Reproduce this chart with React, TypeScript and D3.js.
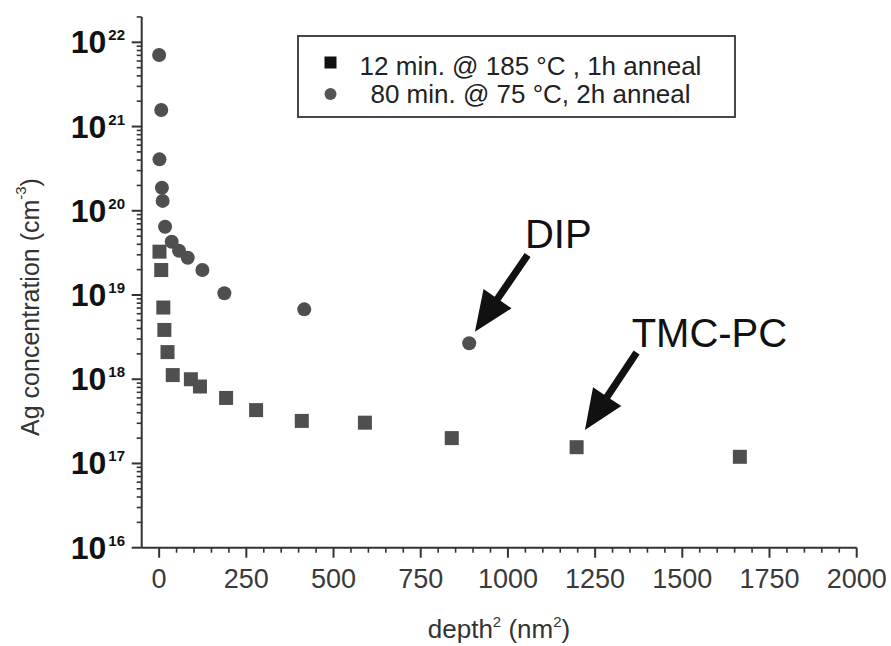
import React from "react";
import * as d3 from "d3";

// ---- data ----
const squareDepth = [1, 6, 12, 15, 24, 39, 91, 117, 192, 278, 409, 590, 839, 1197, 1665];
const squareConc = [3.27e19, 1.98e19, 7.1e18, 3.85e18, 2.1e18, 1.12e18, 1.0e18, 8.2e17, 6.0e17, 4.3e17, 3.2e17, 3.05e17, 2.0e17, 1.56e17, 1.2e17];
const circleDepth = [0, 6, 1, 8, 10, 17, 36, 57, 82, 124, 187, 416, 889];
const circleConc = [7.06e21, 1.57e21, 4.08e20, 1.88e20, 1.31e20, 6.47e19, 4.29e19, 3.36e19, 2.77e19, 1.98e19, 1.05e19, 6.76e18, 2.67e18];

const xTicks = [0, 250, 500, 750, 1000, 1250, 1500, 1750, 2000];
const yDecades = [16, 17, 18, 19, 20, 21, 22];
const legendLabels = ["12 min. @ 185 °C , 1h anneal", "80 min. @ 75 °C, 2h anneal"];
const annotationLabels = ["DIP", "TMC-PC"];
const annotationDepth = [889, 1197];
const annotationConc = [2.67e18, 1.56e17];

const FONT = "'Liberation Sans', Arial, Helvetica, sans-serif";
const AXIS = "#333";
const MARK = "#4f4f4f";

export default function App() {
  const W = 891, H = 646;
  const x = d3.scaleLinear().domain([-50, 2000]).range([141.7, 856.7]);
  const decadePx = 84.23;
  const y0 = 547.7;
  const y = d3
    .scaleLog()
    .domain([1e16, 2e22])
    .range([y0, y0 - decadePx * Math.log10(2e6)]);

  const xMinor: number[] = d3.range(0, 2001, 50).filter((v) => v % 250 !== 0);
  const yMinor: number[] = [];
  yDecades.forEach((d) => {
    for (let k = 2; k <= 9; k++) {
      const v = k * Math.pow(10, d);
      if (v <= 2e22 + 1) yMinor.push(v);
    }
  });

  const axisX = x(-50);
  const sq = 14;

  const arrow = (tx: number, ty: number, hx: number, hy: number, key: string) => {
    const dx = hx - tx, dy = hy - ty;
    const len = Math.hypot(dx, dy);
    const ux = dx / len, uy = dy / len;
    const nx = -uy, ny = ux;
    const L = 40, hw = 17, sw = 3.6;
    const bx = hx - L * ux, by = hy - L * uy;
    const pts = [
      [tx + sw * nx, ty + sw * ny],
      [bx + sw * nx, by + sw * ny],
      [bx + hw * nx, by + hw * ny],
      [hx, hy],
      [bx - hw * nx, by - hw * ny],
      [bx - sw * nx, by - sw * ny],
      [tx - sw * nx, ty - sw * ny],
    ];
    return <polygon key={key} points={pts.map((p) => p.join(",")).join(" ")} fill="#111" />;
  };

  // pixel offsets of label / arrow relative to the annotated point
  const annOffsets = [
    { text: [55.7, -95.3], tail: [58.4, -88.3], tip: [5.7, -11.6] },
    { text: [55, -100.6], tail: [60, -94.6], tip: [8.3, -17.3] },
  ];

  return (
    <svg
      width={W}
      height={H}
      style={{ position: "absolute", left: 0, top: 0, background: "#fff" }}
      fontFamily={FONT}
    >
      <rect x={0} y={0} width={W} height={H} fill="#fff" />
      {/* axes lines */}
      <line x1={axisX} x2={axisX} y1={y(2e22)} y2={y0} stroke={AXIS} strokeWidth={2} />
      <line x1={axisX} x2={x(2000)} y1={y0} y2={y0} stroke={AXIS} strokeWidth={2} />
      {/* x ticks */}
      {xTicks.map((t) => (
        <g key={"xt" + t}>
          <line x1={x(t)} x2={x(t)} y1={y0} y2={y0 + 10} stroke={AXIS} strokeWidth={2} />
          <text x={x(t)} y={588} textAnchor="middle" fontSize={27} fill="#3a3a3a">
            {t}
          </text>
        </g>
      ))}
      {xMinor.map((t) => (
        <line key={"xm" + t} x1={x(t)} x2={x(t)} y1={y0} y2={y0 + 5} stroke={AXIS} strokeWidth={1.6} />
      ))}
      {/* y ticks */}
      {yDecades.map((d) => {
        const v = Math.pow(10, d);
        return (
          <g key={"yt" + d}>
            <line x1={axisX - 10} x2={axisX} y1={y(v)} y2={y(v)} stroke={AXIS} strokeWidth={2} />
            <text x={125} y={y(v) + 11} textAnchor="end" fontWeight="bold" fill="#111">
              <tspan fontSize={32}>10</tspan>
              <tspan fontSize={15} dy={-13} dx={2}>
                {d}
              </tspan>
            </text>
          </g>
        );
      })}
      {yMinor.map((v, i) => (
        <line key={"ym" + i} x1={axisX - 5} x2={axisX} y1={y(v)} y2={y(v)} stroke={AXIS} strokeWidth={1.6} />
      ))}
      {/* axis titles */}
      <text
        transform={`translate(30,307) rotate(-90)`}
        textAnchor="middle"
        dominantBaseline="central"
        fontSize={25}
        fill="#333"
      >
        Ag concentration (cm
        <tspan fontSize={15} dy={-10}>-3</tspan>
        <tspan dy={10}>)</tspan>
      </text>
      <text x={499} y={638} textAnchor="middle" fontSize={26} fill="#333">
        depth
        <tspan fontSize={15} dy={-11}>2</tspan>
        <tspan dy={11}> (nm</tspan>
        <tspan fontSize={15} dy={-11}>2</tspan>
        <tspan dy={11}>)</tspan>
      </text>
      {/* data */}
      {squareDepth.map((d, i) => (
        <rect
          key={"s" + i}
          x={x(d) - sq / 2}
          y={y(squareConc[i]) - sq / 2}
          width={sq}
          height={sq}
          fill={MARK}
        />
      ))}
      {circleDepth.map((d, i) => (
        <circle key={"c" + i} cx={x(d)} cy={y(circleConc[i])} r={7} fill={MARK} />
      ))}
      {/* legend */}
      <rect x={298} y={36} width={437} height={81} fill="#fff" stroke={AXIS} strokeWidth={1.8} />
      <rect x={324.5} y={56.5} width={12} height={12} fill="#111" />
      <circle cx={330.5} cy={94} r={6} fill="#555" />
      <text x={530.5} y={75} textAnchor="middle" fontSize={26} fill="#222">
        {legendLabels[0]}
      </text>
      <text x={530.5} y={103} textAnchor="middle" fontSize={26} fill="#222">
        {legendLabels[1]}
      </text>
      {/* annotations */}
      {annotationLabels.map((lab, i) => {
        const px = x(annotationDepth[i]);
        const py = y(annotationConc[i]);
        const o = annOffsets[i];
        return (
          <g key={"a" + i}>
            <text x={px + o.text[0]} y={py + o.text[1]} fontSize={40} fill="#111">
              {lab}
            </text>
            {arrow(px + o.tail[0], py + o.tail[1], px + o.tip[0], py + o.tip[1], "ar" + i)}
          </g>
        );
      })}
    </svg>
  );
}
